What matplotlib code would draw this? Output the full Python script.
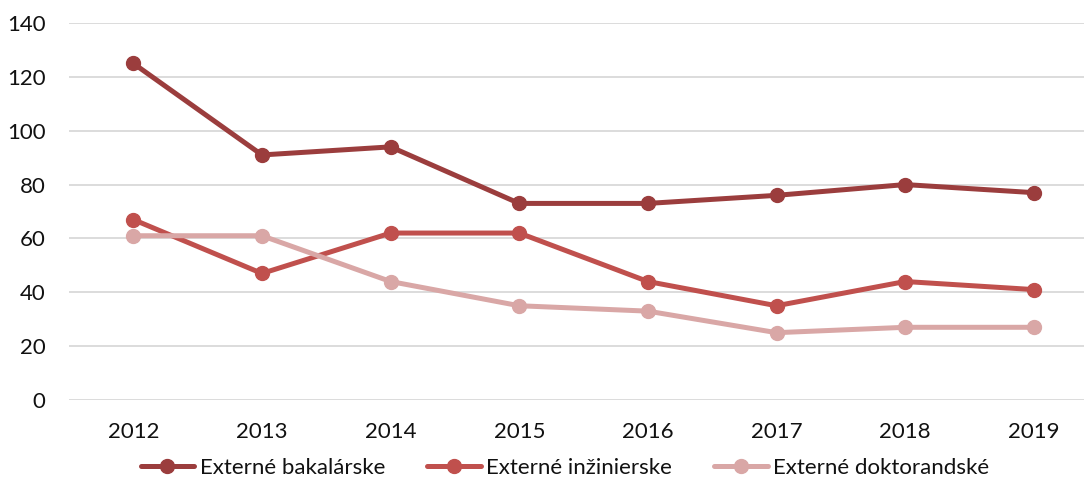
import matplotlib
matplotlib.use("Agg")
import matplotlib.pyplot as plt

years = ["2012", "2013", "2014", "2015", "2016", "2017", "2018", "2019"]
bakalarske = [125, 91, 94, 73, 73, 76, 80, 77]
inzinierske = [67, 47, 62, 62, 44, 35, 44, 41]
doktorandske = [61, 61, 44, 35, 33, 25, 27, 27]
series_names = ["Externé bakalárske", "Externé inžinierske", "Externé doktorandské"]
colors = ["#9B3D3D", "#C0504D", "#D9A7A6"]
yticks = [0, 20, 40, 60, 80, 100, 120, 140]

plt.rcParams['font.family'] = ['Lato', 'DejaVu Sans']

fig = plt.figure(figsize=(10.84, 4.93), dpi=100)
ax = fig.add_axes([69/1084, 93/493, 1 - 69/1084, 377/493])

x = list(range(len(years)))
for vals, name, c in zip([bakalarske, inzinierske, doktorandske], series_names, colors):
    ax.plot(x, vals, color=c, lw=3.6, marker='o', ms=10, label=name,
            solid_capstyle='round', zorder=3)

ax.set_xlim(-0.5, 7.39)
ax.set_ylim(0, 140)
ax.set_yticks(yticks)
ax.set_xticks(x)
ax.set_xticklabels(years)
ax.grid(axis='y', color='#D9D9D9', lw=1.3)
ax.set_axisbelow(True)
for s in ax.spines.values():
    s.set_visible(False)
ax.tick_params(axis='both', length=0, labelsize=16, colors='#111111')
ax.tick_params(axis='y', pad=17)
ax.tick_params(axis='x', pad=16)

leg = fig.legend(loc='center', bbox_to_anchor=(565/1084, 1 - 468/493), ncol=3,
                 frameon=False, fontsize=16, handlelength=2.4, handletextpad=0.25,
                 columnspacing=1.9)
for t in leg.get_texts():
    t.set_color('#111111')
fig.savefig("out.png", dpi=100)
